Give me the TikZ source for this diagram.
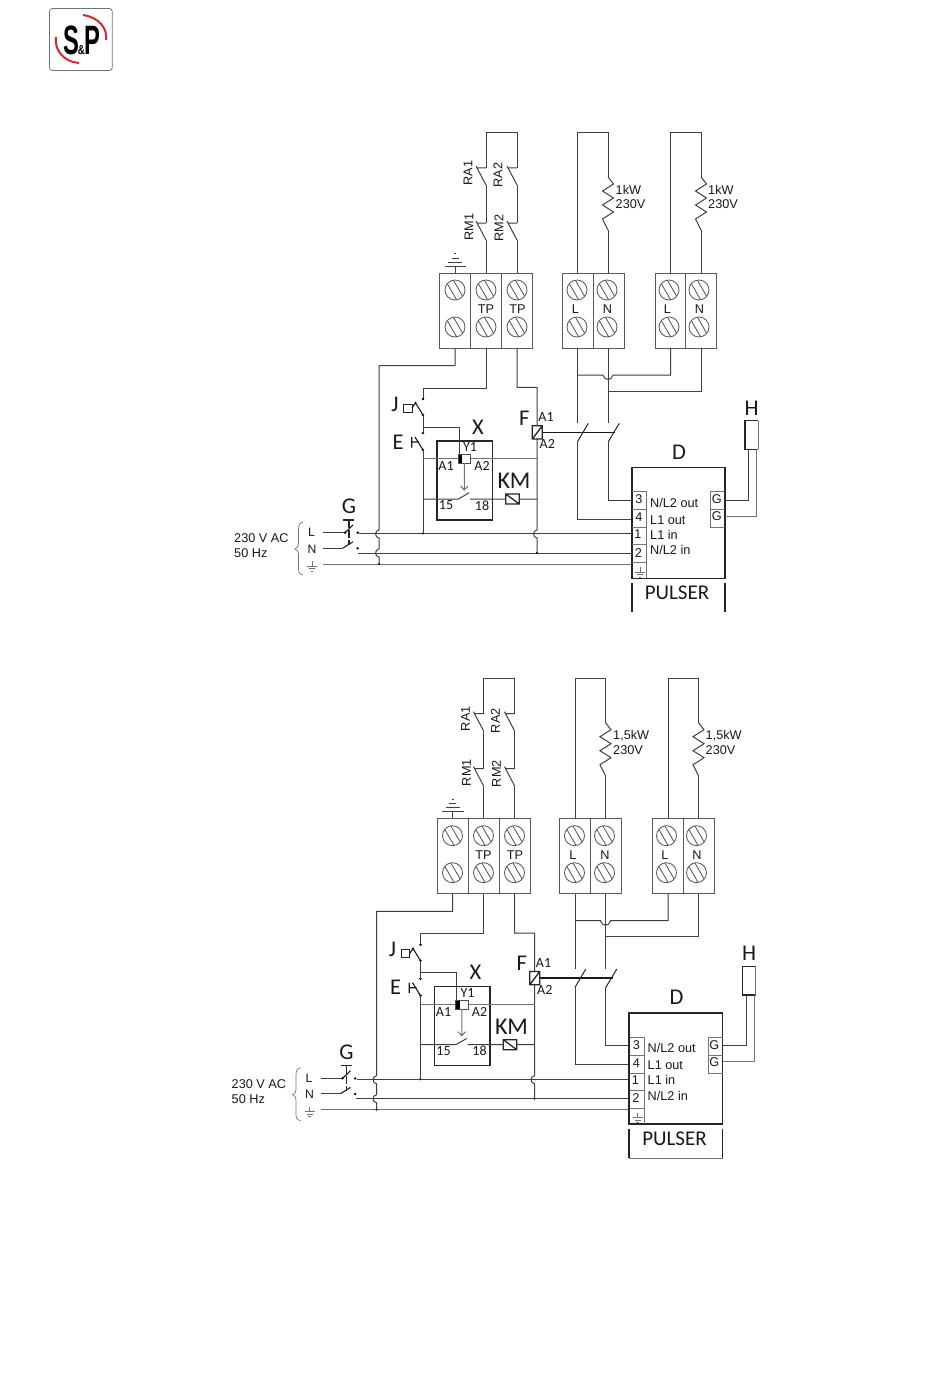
\documentclass[tikz,border=0pt]{standalone}
\usepackage{fontspec}
\setmainfont{Liberation Sans}
\newfontfamily\carl{Carlito}
\definecolor{wire}{gray}{0.25}
\definecolor{lite}{gray}{0.45}
\definecolor{logored}{RGB}{214,40,50}
\newcommand{\fs}[1]{\fontsize{#1}{#1}\selectfont}
\tikzset{
  wr/.style={draw=wire,line width=1pt},
  lw/.style={draw=lite,line width=1pt},
  bx/.style={draw=black!85,line width=1.6pt},
  tb/.style={draw=black!65,line width=0.85pt},
  txt/.style={inner sep=0pt,text=black!90,font=\fs{12.7}},
  big/.style={inner sep=0pt,text=black!90,font=\carl\fs{22.5}},
  sml/.style={inner sep=0pt,text=black!90,font=\carl\fs{14}},
  dot/.style={fill=black,draw=none}
}
\newcommand{\screw}[2]{%
  \draw[tb] (#1,#2) circle[radius=10pt];
  \draw[tb,shift={(#1,#2)}] (-1.65,-9.86) -- (7.72,6.36) (-7.72,-6.36) -- (1.65,9.86);}
\newcommand{\tcol}[1]{\screw{#1}{290}\screw{#1}{327}}
\newcommand{\nocontact}[2]{% x, y of stub
  \draw[wr] (#1,#2) -- (#1-9.5,#2) (#1-10,#2-2) -- (#1,#2+17);}
\newcommand{\resist}[1]{%
  \draw[wr] (#1,177) -- (#1+5.5,184) -- (#1-5.5,191) -- (#1+5.5,198) -- (#1-5.5,205) -- (#1+5.5,212) -- (#1-5.5,219) -- (#1,230);}
\newcommand{\earthsym}[2]{%
  \draw[draw=lite,line width=0.7pt,shift={(#1,#2)}] (0,0) -- (0,5) (-5,5) -- (5,5) (-3,7.5) -- (3,7.5) (-1.3,10) -- (1.3,10);}
\newcommand{\wiring}[1]{%
  % contacts loop
  \draw[wr] (486,168) -- (486,133) -- (517,133) -- (517,168);
  \nocontact{486}{168}\nocontact{517}{168}
  \nocontact{486}{223}\nocontact{517}{223}
  \draw[wr] (486,185) -- (486,223) (517,185) -- (517,223) (486,240) -- (486,273) (517,240) -- (517,273);
  \node[txt,rotate=90] (ra1) at (468,173) {RA1};
  \node[txt,rotate=90] (ra2) at (498,175) {RA2};
  \node[txt,rotate=90] (rm1) at (469,227) {RM1};
  \node[txt,rotate=90] (rm2) at (499,228) {RM2};
  % earth top
  \draw[wr] (455,273) -- (455,266);
  \draw[wr,line width=1pt] (444.5,266) -- (466,266) (448,262) -- (462,262) (451.5,258) -- (458.5,258) (454,253.5) -- (456,253.5);
  % terminal blocks
  \draw[tb] (439.5,273) rectangle (532.5,348) (470.5,273) -- (470.5,348) (501.5,273) -- (501.5,348);
  \draw[tb] (562.3,273) rectangle (624,348) (593.3,273) -- (593.3,348);
  \draw[tb] (655,273) rectangle (716.7,348) (685.7,273) -- (685.7,348);
  \tcol{455}\tcol{486}\tcol{517}\tcol{577}\tcol{607}\tcol{669}\tcol{699}
  \node[txt] (tp1) at (486,309.5) {TP};
  \node[txt] (tp2) at (517.5,309.5) {TP};
  \node[txt] (l1) at (575.5,309.5) {L};
  \node[txt] (n1) at (607.5,309.5) {N};
  \node[txt] (l2) at (667.5,309.5) {L};
  \node[txt] (n2) at (699.5,309.5) {N};
  % heaters
  \draw[wr] (577.7,273) -- (577.7,133) -- (608,133) -- (608,177) (608,230) -- (608,273);
  \draw[wr] (670.5,273) -- (670.5,133) -- (701,133) -- (701,177) (701,230) -- (701,273);
  \resist{608}\resist{701}
  \node[txt,anchor=west] (p1a) at (615.5,190) {#1};
  \node[txt,anchor=west] (p1b) at (615.5,204.5) {230V};
  \node[txt,anchor=west] (p2a) at (708,190) {#1};
  \node[txt,anchor=west] (p2b) at (708,204.5) {230V};
  % below blocks
  \draw[wr] (455,348) -- (455,365.7) -- (379,365.7) -- (379,530) .. controls (374.5,530) and (374.5,538) .. (379,538) -- (379,549) .. controls (374.5,549) and (374.5,557) .. (379,557) -- (379,564);
  \draw[wr] (486,348) -- (486,388) -- (423,388) -- (423,399);
  \draw[wr] (517,348) -- (517,387.3) -- (537,387.3) -- (537,425.7) (537,439) -- (537,530) .. controls (532.5,530) and (532.5,538) .. (537,538) -- (537,553);
  \draw[wr] (577.7,348) -- (577.7,423);
  \draw[wr] (608,348) -- (608,423);
  \draw[wr] (577.7,375) -- (603,375) .. controls (604.5,381) and (611.5,381) .. (613,375) -- (670.5,375) -- (670.5,348);
  \draw[wr] (608,391) -- (701,391) -- (701,348);
  % J and E
  \fill[dot] (423,399) circle[radius=1.4pt] (423,433) circle[radius=1.4pt] (423,415) circle[radius=1.4pt] (423,450) circle[radius=1.4pt];
  \draw[draw=black!90,line width=1.1pt] (415,402) -- (423,415) (412,408) -- (416,402);
  \draw[draw=black!85,line width=1pt] (403.5,404) rectangle (412,412);
  \draw[wr] (423,415) -- (423,433) (423,450) -- (423,533.5);
  \draw[draw=black!90,line width=1.1pt] (415,437) -- (423,450) (411.7,437) -- (411.7,447.5) (411.7,442) -- (419,442);
  \draw[wr] (423,427) -- (459.3,427) -- (459.3,454.5);
  \node[big] (jl) at (395,404) {J};
  \node[big] (el) at (398,442) {E};
  \node[big] (xl) at (478,427) {X};
  \draw[bx] (437,440.7) rectangle (492.3,519.7);
  \draw[lw] (423,458.7) -- (458.3,458.7) (470.7,458.7) -- (537,458.7);
  \fill[black] (458.3,454.3) rectangle (462.3,463.3);
  \draw[draw=black!70,line width=0.7pt] (458.3,454.3) rectangle (470.7,463.3);
  \draw[lw] (464.3,463.3) -- (464.3,490) (460.5,486) -- (464.3,490) -- (468,486);
  \draw[wr] (423,499) -- (458.3,499) -- (469.3,492.7) (470,499) -- (505.7,499) (519.3,499) -- (537,499);
  \draw[draw=black!85,line width=1.3pt] (505.7,494) rectangle (519.3,504) (505.7,494) -- (519.3,504);
  \node[sml] (y1) at (470,447) {Y1};
  \node[sml] (xa1) at (446,466) {A1};
  \node[sml] (xa2) at (482,466) {A2};
  \node[sml] (x15) at (446,505.5) {15};
  \node[sml] (x18) at (482,505.5) {18};
  \node[big,font=\carl\fs{24}] (km) at (514,481) {KM};
  % F
  \node[big] (fl) at (524.3,418) {F};
  \node[sml] (fa1) at (546,417) {A1};
  \node[sml] (fa2) at (547.3,444) {A2};
  \draw[draw=black!85,line width=1.3pt] (532.3,425.7) rectangle (542.3,439) (532.3,439) -- (542.3,425.7);
  \draw[draw=black!90,line width=1.4pt] (542.3,432.3) -- (615,432.3);
  \draw[draw=black!85,line width=1pt] (588.3,423.3) -- (577.5,441.7) (619.3,423.3) -- (608.3,441.7);
  \draw[wr] (577.7,441.7) -- (577.7,519) -- (631,519);
  \draw[wr] (608.3,441.7) -- (608.3,500) -- (631,500);
  % mains
  \draw[wr] (323,532.7) -- (345,532.7) (323,548) -- (343,548);
  \draw[draw=black!90,line width=1.1pt] (345,532.7) -- (353,525) (343,548) -- (353,541.7);
  \draw[draw=black!85,line width=1.4pt] (343,520) -- (354,520);
  \draw[draw=black!85,line width=1.4pt,dash pattern=on 8pt off 2pt] (349,520) -- (349,545);
  \fill[dot] (345,532.7) circle[radius=1.3pt] (357.7,532.7) circle[radius=1.3pt] (357.7,548.3) circle[radius=1.3pt];
  \draw[wr] (359,533.5) -- (631,533.5);
  \draw[wr] (358,553) -- (631,553);
  \draw[lw] (323,564) -- (631,564);
  \fill[dot] (379,564) circle[radius=1.1pt] (537,553) circle[radius=1.1pt] (423,533.5) circle[radius=1.1pt];
  \node[big] (gl) at (349,506.5) {G};
  \node[txt,font=\fs{12.2}] (ml) at (311.5,532.5) {L};
  \node[txt,font=\fs{12.2}] (mn) at (312,549) {N};
  \earthsym{312}{561}
  \draw[draw=lite,line width=0.7pt] (303,522) .. controls (299,523) and (298.5,526) .. (298.5,530) -- (298.5,543) .. controls (298.5,547) and (297,548) .. (295,549) .. controls (297,550) and (298.5,551) .. (298.5,555) -- (298.5,568) .. controls (298.5,572) and (299,574) .. (303,575);
  \node[txt,anchor=west] (volt) at (234,538) {230 V AC};
  \node[txt,anchor=west] (hz) at (234,553) {50 Hz};
  % pulser
  \draw[bx] (631.7,578.3) -- (631.7,467.3) -- (725,467.3) -- (725,578.3) -- cycle;
  \draw[bx] (631.7,583) -- (631.7,612.3) (725,583) -- (725,612.3);
  \node[big] (dl) at (679,452) {D};
  \node[big,font=\carl\fs{21}] (pul) at (677,593) {PULSER};
  \draw[draw=lite,line width=0.8pt] (632,491.7) -- (646.5,491.7) -- (646.5,578) (632,509.3) -- (646.5,509.3) (632,527.7) -- (646.5,527.7) (632,544.3) -- (646.5,544.3) (632,562.3) -- (646.5,562.3);
  \draw[draw=lite,line width=0.8pt] (725,491.7) -- (710.7,491.7) -- (710.7,527.7) -- (725,527.7) (710.7,509.3) -- (725,509.3);
  \node[txt] (t3) at (639,499.5) {3};
  \node[txt] (t4) at (639,517.5) {4};
  \node[txt] (t1) at (638,534) {1};
  \node[txt] (t2) at (638.5,552.7) {2};
  \earthsym{640}{567}
  \node[txt,anchor=west] (o1) at (650,502.7) {N/L2 out};
  \node[txt,anchor=west] (o2) at (650,519.7) {L1 out};
  \node[txt,anchor=west] (o3) at (650,534.5) {L1 in};
  \node[txt,anchor=west] (o4) at (650,550) {N/L2 in};
  \node[txt] (g1) at (716.7,499) {G};
  \node[txt] (g2) at (716.7,516.5) {G};
  % H
  \draw[draw=black!85,line width=1.2pt] (758,449.3) -- (745,449.3) -- (745,420.7) -- (758,420.7);
  \draw[draw=lite,line width=1.2pt] (758.3,420.7) -- (758.3,449.3);
  \node[big] (hl) at (751.5,408) {H};
  \draw[wr] (725,500) -- (748.5,500) -- (748.5,449.3);
  \draw[lw] (725,516) -- (756.7,516) -- (756.7,449.3);
}
\begin{document}
\begin{tikzpicture}[x=1pt,y=-1pt]
\useasboundingbox (0,0) rectangle (950,1383);
\fill[white] (0,0) rectangle (950,1383);
% logo
\draw[draw=black!55,line width=0.8pt,rounded corners=3pt] (49.5,8.5) rectangle (112.3,70.5);
\draw[draw=logored,line width=2pt] (83,15) .. controls (98,17) and (108,28) .. (106,40);
\draw[draw=logored,line width=2pt] (56,37) .. controls (54,50) and (64,62) .. (79,63);
\node[inner sep=0pt,font=\bfseries\fs{41}] (logos) at (71.5,40) {\scalebox{0.58}[1]{S}};
\node[inner sep=0pt,font=\bfseries\fs{13}] (logoa) at (81.5,50.5) {\scalebox{0.75}[1]{\&}};
\node[inner sep=0pt,font=\bfseries\fs{41}] (logop) at (92,40) {\scalebox{0.58}[1]{P}};
\begin{scope}[name prefix=a-]
\wiring{1kW}
\end{scope}
\begin{scope}[name prefix=b-,shift={(-2.5,545.7)}]
\wiring{1,5kW}
\draw[draw=lite,line width=0.7pt] (631.7,612.3) -- (725,612.3);
\end{scope}
\end{tikzpicture}
\end{document}
